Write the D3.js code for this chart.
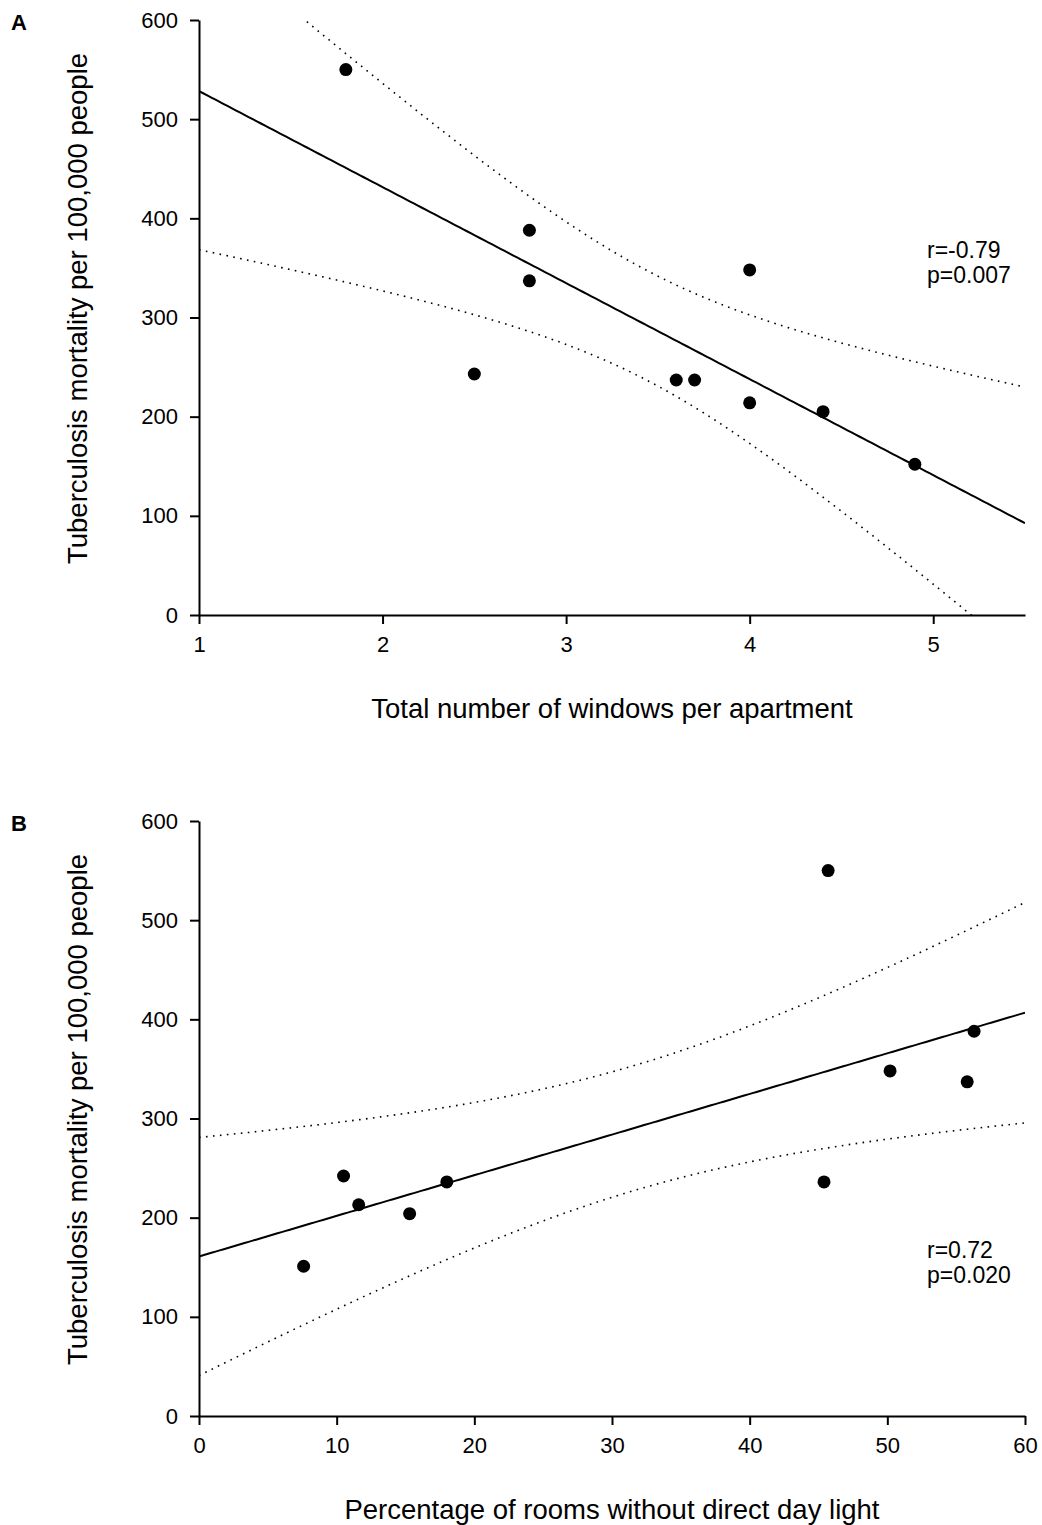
<!DOCTYPE html>
<html>
<head>
<meta charset="utf-8">
<script src="https://cdn.jsdelivr.net/npm/d3@7"></script>
<style>
  body { margin: 0; background: #fff; }
  svg text { font-family: "Liberation Sans", Arial, sans-serif; fill: #000; }
  .axis path, .axis line { stroke: #000; stroke-width: 2; }
  .axis text { font-size: 22px; }
</style>
</head>
<body>
<svg id="chart"></svg>
<script>
// Panel A: windows per apartment vs TB mortality
const windowsA = [1.8, 2.8, 2.8, 2.5, 3.6, 3.7, 4.0, 4.0, 4.4, 4.9];
const mortalityA = [550, 388, 337, 243, 237, 237, 348, 214, 205, 152];
const xTicksA = [1, 2, 3, 4, 5];

// Panel B: % rooms without daylight vs TB mortality
const roomsB = [45.7, 56.3, 55.8, 50.2, 45.4, 18.0, 10.5, 11.6, 15.3, 7.6];
const mortalityB = [550, 388, 337, 348, 236, 236, 242, 213, 204, 151];
const xTicksB = [0, 10, 20, 30, 40, 50, 60];

const yTicks = [0, 100, 200, 300, 400, 500, 600];

const width = 1042, height = 1525;
const svg = d3.select('#chart').attr('width', width).attr('height', height);

// least squares fit with 95% confidence band of the mean
function fitLine(xs, ys) {
    const n = xs.length;
    const mx = d3.mean(xs), my = d3.mean(ys);
    const sxx = d3.sum(xs, x => (x - mx) ** 2);
    const sxy = d3.sum(xs.map((x, i) => (x - mx) * (ys[i] - my)));
    const b = sxy / sxx;
    const a = my - b * mx;
    const sse = d3.sum(xs.map((x, i) => (ys[i] - (a + b * x)) ** 2));
    const s = Math.sqrt(sse / (n - 2));
    const t = 2.306; // t(0.975, df = 8)
    const band = x => t * s * Math.sqrt(1 / n + (x - mx) ** 2 / sxx);
    return { a, b, band };
}

function panel(cfg) {
    const m = cfg.margin;
    const w = 826, h = 595;
    const g = svg.append('g').attr('transform', `translate(${m.left},${m.top})`);

    const x = d3.scaleLinear().domain(cfg.xDomain).range([0, w]);
    const y = d3.scaleLinear().domain([0, 600]).range([h, 0]);

    const clipId = 'clip' + cfg.label;
    g.append('clipPath').attr('id', clipId)
        .append('rect').attr('width', w).attr('height', h);

    // axes
    g.append('g').attr('class', 'axis')
        .attr('transform', `translate(0,${h})`)
        .call(d3.axisBottom(x).tickValues(cfg.xTicks).tickFormat(d3.format('d'))
            .tickSize(9).tickSizeOuter(0).tickPadding(12))
        .call(a => a.selectAll('text').attr('dy', '0.71em'));

    g.append('g').attr('class', 'axis')
        .call(d3.axisLeft(y).tickValues(yTicks).tickSize(9).tickSizeOuter(0).tickPadding(12));

    // regression + confidence bands
    const fit = fitLine(cfg.xs, cfg.ys);
    const samples = d3.range(0, 201).map(i => cfg.xDomain[0] + (cfg.xDomain[1] - cfg.xDomain[0]) * i / 200);
    const line = d3.line().x(d => x(d[0])).y(d => y(d[1]));
    const plot = g.append('g').attr('clip-path', `url(#${clipId})`);

    plot.append('path')
        .attr('d', line(samples.map(v => [v, fit.a + fit.b * v])))
        .attr('fill', 'none').attr('stroke', '#000').attr('stroke-width', 2);

    [1, -1].forEach(sign => {
        plot.append('path')
            .attr('d', line(samples.map(v => [v, fit.a + fit.b * v + sign * fit.band(v)])))
            .attr('fill', 'none').attr('stroke', '#000').attr('stroke-width', 1.6)
            .attr('stroke-dasharray', '1.6,5.4');
    });

    // points
    g.selectAll('.dot')
        .data(cfg.xs.map((v, i) => [v, cfg.ys[i]]))
        .join('circle')
        .attr('class', 'dot')
        .attr('cx', d => x(d[0]))
        .attr('cy', d => y(d[1]))
        .attr('r', 6.5)
        .attr('fill', '#000');

    // panel letter
    svg.append('text')
        .attr('x', 11).attr('y', m.top + 10)
        .attr('font-size', '22px').attr('font-weight', 'bold')
        .text(cfg.label);

    // axis titles
    g.append('text')
        .attr('x', w / 2 - 0).attr('y', h + 103)
        .attr('text-anchor', 'middle').attr('font-size', '27.5px')
        .text(cfg.xTitle);

    g.append('text')
        .attr('transform', `translate(${-112},${h / 2 - 9}) rotate(-90)`)
        .attr('text-anchor', 'middle').attr('font-size', '27.5px')
        .text('Tuberculosis mortality per 100,000 people');

    // stats
    const st = g.append('text').attr('font-size', '23px')
        .attr('x', 728).attr('y', cfg.statY);
    st.append('tspan').attr('x', 728).text(cfg.stats[0]);
    st.append('tspan').attr('x', 728).attr('dy', 25).text(cfg.stats[1]);
}

panel({
    label: 'A', margin: { left: 199, top: 20 },
    xDomain: [1, 5.5], xTicks: xTicksA,
    xs: windowsA, ys: mortalityA,
    xTitle: 'Total number of windows per apartment',
    stats: ['r=-0.79', 'p=0.007'], statY: 238
});

panel({
    label: 'B', margin: { left: 199, top: 821 },
    xDomain: [0, 60], xTicks: xTicksB,
    xs: roomsB, ys: mortalityB,
    xTitle: 'Percentage of rooms without direct day light',
    stats: ['r=0.72', 'p=0.020'], statY: 437
});
</script>
</body>
</html>
